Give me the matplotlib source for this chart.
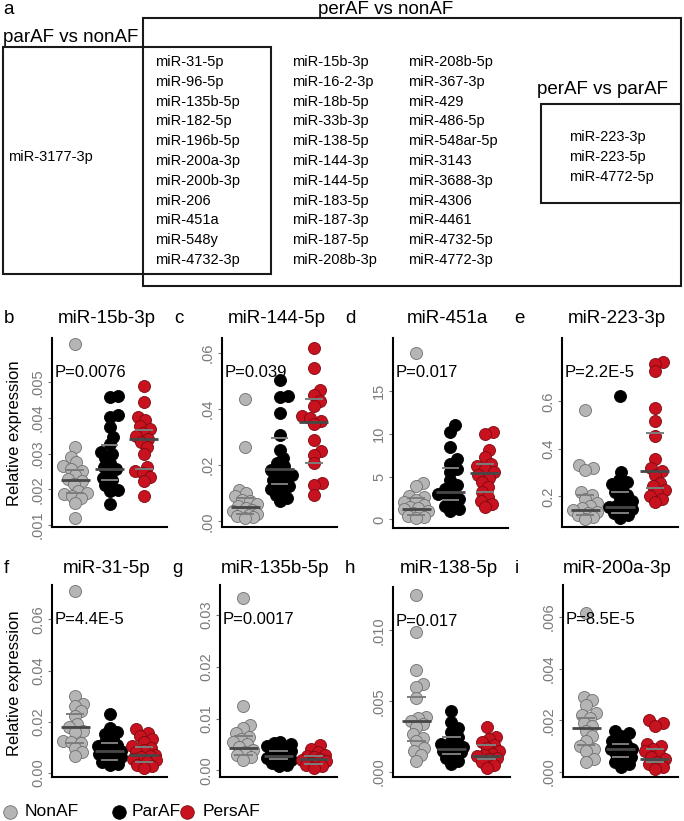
import numpy as np
import matplotlib
matplotlib.use('Agg')
import matplotlib.pyplot as plt
from matplotlib.patches import Rectangle

plt.rcParams['font.family'] = ['Liberation Sans', 'DejaVu Sans']

W, H = 684, 821

# ---- panel a: miRNA lists ----
only_paraf = ['miR-3177-3p']
paraf_and_peraf = ['miR-31-5p', 'miR-96-5p', 'miR-135b-5p', 'miR-182-5p', 'miR-196b-5p',
                   'miR-200a-3p', 'miR-200b-3p', 'miR-206', 'miR-451a', 'miR-548y', 'miR-4732-3p']
only_peraf_col1 = ['miR-15b-3p', 'miR-16-2-3p', 'miR-18b-5p', 'miR-33b-3p', 'miR-138-5p',
                   'miR-144-3p', 'miR-144-5p', 'miR-183-5p', 'miR-187-3p', 'miR-187-5p', 'miR-208b-3p']
only_peraf_col2 = ['miR-208b-5p', 'miR-367-3p', 'miR-429', 'miR-486-5p', 'miR-548ar-5p',
                   'miR-3143', 'miR-3688-3p', 'miR-4306', 'miR-4461', 'miR-4732-5p', 'miR-4772-3p']
peraf_vs_paraf = ['miR-223-3p', 'miR-223-5p', 'miR-4772-5p']

groups = ['NonAF', 'ParAF', 'PersAF']

# ---- panels b-i: relative expression ----
b_non = [0.00607, 0.00319, 0.00291, 0.00275, 0.00265, 0.00258, 0.0025, 0.0024, 0.0023, 0.00222,
         0.00215, 0.00196, 0.0019, 0.00187, 0.00182, 0.00175, 0.00162, 0.0012]
b_par = [0.00461, 0.00458, 0.00408, 0.00402, 0.00374, 0.00347, 0.00327, 0.00305, 0.00298, 0.00287,
         0.00273, 0.00262, 0.00256, 0.00245, 0.00232, 0.00225, 0.00212, 0.00198, 0.00194, 0.00159]
b_pers = [0.00489, 0.00445, 0.00402, 0.00393, 0.00377, 0.00368, 0.00357, 0.00348, 0.0034, 0.00332,
          0.00319, 0.00299, 0.00263, 0.00252, 0.00245, 0.00235, 0.00222, 0.00181]
b_median = [0.00226, 0.00256, 0.00341]
b_q1 = [0.00189, 0.00226, 0.00257]
b_q3 = [0.00254, 0.00324, 0.00366]

c_non = [0.0436, 0.0264, 0.0113, 0.0101, 0.0089, 0.0077, 0.0071, 0.0063, 0.0053, 0.0048,
         0.0042, 0.0036, 0.0032, 0.0027, 0.0024, 0.0020, 0.0015, 0.0012]
c_par = [0.0505, 0.0448, 0.0443, 0.0386, 0.0309, 0.0253, 0.0226, 0.0208, 0.0196, 0.0184, 0.0175,
         0.0166, 0.0158, 0.0149, 0.0137, 0.0125, 0.0115, 0.0107, 0.0095, 0.0083, 0.0071]
c_pers = [0.0618, 0.0546, 0.0469, 0.0451, 0.0428, 0.0410, 0.0374, 0.0368, 0.0356, 0.0345,
          0.0289, 0.0249, 0.0238, 0.0208, 0.0137, 0.0131, 0.0095]
c_median = [0.0050, 0.0188, 0.0353]
c_q1 = [0.0025, 0.0134, 0.0208]
c_q3 = [0.0085, 0.0297, 0.0437]

d_non = [19.4, 4.3, 3.9, 2.7, 2.6, 2.3, 2.0, 1.7, 1.5, 1.3, 1.2, 1.0, 0.8, 0.6, 0.4, 0.3, 0.2]
d_par = [11.0, 10.2, 8.5, 7.1, 6.5, 5.9, 5.5, 4.6, 4.0, 3.6, 3.3, 3.0, 2.7, 2.4, 2.0, 1.6, 1.25, 1.0]
d_pers = [10.2, 10.0, 8.1, 7.3, 6.5, 6.2, 5.9, 5.5, 5.2, 4.8, 4.4, 3.8, 3.2, 2.6, 2.2, 1.8, 1.45]
d_median = [1.17, 3.16, 5.47]
d_q1 = [0.5, 2.3, 3.2]
d_q3 = [2.5, 6.0, 6.5]

e_non = [0.562, 0.331, 0.318, 0.31, 0.217, 0.207, 0.19, 0.17, 0.16, 0.15, 0.143, 0.135,
         0.128, 0.12, 0.112, 0.105]
e_par = [0.621, 0.301, 0.27, 0.26, 0.25, 0.235, 0.22, 0.207, 0.195, 0.18, 0.17, 0.16, 0.155,
         0.148, 0.14, 0.13, 0.12, 0.11]
e_pers = [0.768, 0.759, 0.726, 0.572, 0.516, 0.455, 0.357, 0.319, 0.305, 0.291, 0.256, 0.242,
          0.225, 0.214, 0.2, 0.189, 0.175]
e_median = [0.144, 0.155, 0.305]
e_q1 = [0.12, 0.13, 0.235]
e_q3 = [0.207, 0.218, 0.469]

f_non = [0.0713, 0.030, 0.027, 0.026, 0.024, 0.022, 0.019, 0.018, 0.0165, 0.016, 0.0125, 0.012,
         0.0115, 0.0095, 0.008, 0.0065]
f_par = [0.023, 0.0175, 0.016, 0.015, 0.0135, 0.012, 0.011, 0.0105, 0.0095, 0.009, 0.0085, 0.008,
         0.0075, 0.007, 0.006, 0.005, 0.004, 0.0035, 0.003]
f_pers = [0.017, 0.0155, 0.0145, 0.013, 0.012, 0.0105, 0.0095, 0.009, 0.008, 0.007, 0.0065,
          0.006, 0.0055, 0.005, 0.004, 0.003, 0.0025, 0.0018]
f_median = [0.0178, 0.0083, 0.0069]
f_q1 = [0.0115, 0.0049, 0.0043]
f_q3 = [0.0230, 0.0118, 0.0099]

g_non = [0.0332, 0.0125, 0.0088, 0.0082, 0.0072, 0.0065, 0.006, 0.0055, 0.005, 0.0045, 0.004,
         0.0035, 0.003, 0.0025, 0.002]
g_par = [0.0055, 0.0052, 0.005, 0.0047, 0.0045, 0.004, 0.0037, 0.0034, 0.003, 0.0028, 0.0026,
         0.0024, 0.002, 0.0017, 0.0014, 0.001, 0.0008]
g_pers = [0.0049, 0.0042, 0.0035, 0.003, 0.0028, 0.0025, 0.0022, 0.002, 0.0018, 0.0015, 0.0012,
          0.001, 0.0008, 0.0005]
g_median = [0.0043, 0.0027, 0.0021]
g_q1 = [0.0030, 0.0021, 0.0013]
g_q3 = [0.0067, 0.0037, 0.0027]

h_non = [0.0125, 0.0099, 0.0072, 0.0062, 0.006, 0.0052, 0.0039, 0.0038, 0.0036, 0.0034, 0.0032,
         0.0027, 0.0024, 0.0022, 0.0017, 0.0015, 0.0012, 0.0008]
h_par = [0.0043, 0.0035, 0.0031, 0.0028, 0.0025, 0.0022, 0.002, 0.0018, 0.0017, 0.0016, 0.0015,
         0.0014, 0.0012, 0.001, 0.0008, 0.0006]
h_pers = [0.0032, 0.0025, 0.0023, 0.0021, 0.0019, 0.0017, 0.0015, 0.0013, 0.0012, 0.0011, 0.001,
          0.0009, 0.0007, 0.0005, 0.0003]
h_median = [0.0036, 0.0016, 0.0011]
h_q1 = [0.0022, 0.0013, 0.0009]
h_q3 = [0.0053, 0.0025, 0.0019]

i_non = [0.00615, 0.0029, 0.0028, 0.0026, 0.0023, 0.0022, 0.0021, 0.0019, 0.0018, 0.0016, 0.0014,
         0.0012, 0.001, 0.0009, 0.0008, 0.0005, 0.0004]
i_par = [0.0016, 0.0015, 0.0014, 0.0012, 0.0011, 0.001, 0.0009, 0.0009, 0.0008, 0.0007, 0.0006,
         0.0005, 0.0004, 0.0003, 0.0002]
i_pers = [0.002, 0.0019, 0.0018, 0.0011, 0.001, 0.0009, 0.0008, 0.0007, 0.0006, 0.0005, 0.0004,
          0.0003, 0.0002, 0.0001]
i_median = [0.0017, 0.0009, 0.00052]
i_q1 = [0.00106, 0.00058, 0.00039]
i_q3 = [0.0021, 0.0011, 0.00088]

p_values = ['P=0.0076', 'P=0.039', 'P=0.017', 'P=2.2E-5', 'P=4.4E-5', 'P=0.0017', 'P=0.017', 'P=8.5E-5']
titles = ['miR-15b-3p', 'miR-144-5p', 'miR-451a', 'miR-223-3p',
          'miR-31-5p', 'miR-135b-5p', 'miR-138-5p', 'miR-200a-3p']
letters = ['b', 'c', 'd', 'e', 'f', 'g', 'h', 'i']

# (left, right, top, bottom) in pixels, y limits, ticks, tick labels
panels = [
    dict(pos=(52, 167, 338, 527), ylim=(0.00094, 0.00624), ticks=[.001, .002, .003, .004, .005],
         labels=['.001', '.002', '.003', '.004', '.005'],
         data=[b_non, b_par, b_pers], med=b_median, q1=b_q1, q3=b_q3),
    dict(pos=(222, 337, 338, 527), ylim=(-0.002, 0.0653), ticks=[0, .02, .04, .06],
         labels=['.00', '.02', '.04', '.06'],
         data=[c_non, c_par, c_pers], med=c_median, q1=c_q1, q3=c_q3),
    dict(pos=(393, 508, 338, 528), ylim=(-1.0, 21.2), ticks=[0, 5, 10, 15],
         labels=['0', '5', '10', '15'],
         data=[d_non, d_par, d_pers], med=d_median, q1=d_q1, q3=d_q3),
    dict(pos=(562, 678, 338, 527), ylim=(0.071, 0.867), ticks=[0.2, 0.4, 0.6],
         labels=['0.2', '0.4', '0.6'],
         data=[e_non, e_par, e_pers], med=e_median, q1=e_q1, q3=e_q3),
    dict(pos=(52, 167, 585, 777), ylim=(-0.0017, 0.0735), ticks=[0, .02, .04, .06],
         labels=['0.00', '0.02', '0.04', '0.06'],
         data=[f_non, f_par, f_pers], med=f_median, q1=f_q1, q3=f_q3),
    dict(pos=(220, 337, 585, 777), ylim=(-0.0013, 0.0358), ticks=[0, .01, .02, .03],
         labels=['0.00', '0.01', '0.02', '0.03'],
         data=[g_non, g_par, g_pers], med=g_median, q1=g_q1, q3=g_q3),
    dict(pos=(393, 510, 587, 777), ylim=(-0.00035, 0.01306), ticks=[0, .005, .010],
         labels=['.000', '.005', '.010'],
         data=[h_non, h_par, h_pers], med=h_median, q1=h_q1, q3=h_q3),
    dict(pos=(563, 678, 585, 777), ylim=(-0.00019, 0.00723), ticks=[0, .002, .004, .006],
         labels=['.000', '.002', '.004', '.006'],
         data=[i_non, i_par, i_pers], med=i_median, q1=i_q1, q3=i_q3),
]

fills = ['#b5b5b5', '#000000', '#c8121f']
edges = ['#6e6e6e', '#000000', '#7c0a10']
tick_gray = '#7a7a7a'


def swarm_x(ax, xc, vals, min_gap=7.5, max_off=12):
    # compact beeswarm, computed in pixel space
    vals = np.asarray(vals, float)
    pix = ax.transData.transform(np.column_stack([np.full(len(vals), xc), vals]))
    x0 = pix[0, 0]
    ys = pix[:, 1]
    xs = np.full(len(vals), x0)
    cands = [0]
    for k in range(1, max_off + 1):
        cands += [k, -k]
    placed = []
    for i in np.argsort(vals):
        best, best_d = 0, -1
        for c in cands:
            if not placed:
                best = c
                break
            d = min(np.hypot(x0 + c - px, ys[i] - py) for px, py in placed)
            if d >= min_gap:
                best = c
                break
            if d > best_d:
                best, best_d = c, d
        xs[i] = x0 + best
        placed.append((x0 + best, ys[i]))
    return ax.transData.inverted().transform(np.column_stack([xs, ys]))[:, 0]


def fx(px):
    return px / W


def fy(py):
    return 1 - py / H


fig = plt.figure(figsize=(W / 100, H / 100), dpi=100)

# ---- panel a (drawn in pixel coordinates) ----
va = fig.add_axes([0, 0, 1, 1])
va.set_xlim(0, W)
va.set_ylim(H, 0)
va.axis('off')
for x, y, w, h in [(3, 47, 268, 227), (143, 18, 538, 268), (541, 104, 140, 99)]:
    va.add_patch(Rectangle((x, y), w, h, fill=False, lw=1.5, edgecolor='#1a1a1a'))

va.text(3, 9, 'a', fontsize=13.5, va='center', ha='left')
va.text(3, 38, 'parAF vs nonAF', fontsize=13.5, va='center', ha='left')
va.text(318, 10, 'perAF vs nonAF', fontsize=13.5, va='center', ha='left')
va.text(537, 90, 'perAF vs parAF', fontsize=13.5, va='center', ha='left')

va.text(8, 157, only_paraf[0], fontsize=10.5, va='center')
line_gap = 19.8
for col_x, names in [(155, paraf_and_peraf), (292, only_peraf_col1), (408, only_peraf_col2)]:
    for k, name in enumerate(names):
        va.text(col_x, 62 + k * line_gap, name, fontsize=10.5, va='center')
for k, name in enumerate(peraf_vs_paraf):
    va.text(569, 137 + k * line_gap, name, fontsize=10.5, va='center')

# ---- panels b-i ----
xpos = np.array([1, 2, 3])
for n, p in enumerate(panels):
    l, r, t, b = p['pos']
    ax = fig.add_axes([fx(l), fy(b), (r - l) / W, (b - t) / H])
    ax.set_xlim(0.33, 3.67)
    ax.set_ylim(*p['ylim'])
    for s in ['top', 'right']:
        ax.spines[s].set_visible(False)
    for s in ['left', 'bottom']:
        ax.spines[s].set_linewidth(1.5)
        ax.spines[s].set_color('black')
    ax.set_xticks([])
    ax.set_yticks(p['ticks'])
    ax.set_yticklabels(p['labels'], rotation=90, va='center', color=tick_gray, fontsize=10.5)
    ax.tick_params(axis='y', length=3, width=0.8, color=tick_gray, pad=2)
    ax.patch.set_alpha(0)

    for g in range(3):
        xs = swarm_x(ax, xpos[g], p['data'][g])
        ax.scatter(xs, p['data'][g], s=75, c=fills[g], edgecolors=edges[g],
                   linewidths=0.6, zorder=2, clip_on=False)
    ax.hlines(p['q1'], xpos - 0.26, xpos + 0.26, colors='#7d7d7d', lw=1.4, zorder=3)
    ax.hlines(p['q3'], xpos - 0.26, xpos + 0.26, colors='#7d7d7d', lw=1.4, zorder=3)
    ax.hlines(p['med'], xpos - 0.42, xpos + 0.42, colors='#474747', lw=2.0, zorder=3)

    ax.text(0.025, 0.82, p_values[n], transform=ax.transAxes, fontsize=12, va='center', ha='left')

    base = 323 if n < 4 else 573
    fig.text(fx((l + r) / 2 - 3), fy(base), titles[n], fontsize=13.5, ha='center', va='baseline')
    fig.text(fx(l - 48), fy(base), letters[n], fontsize=13.5, ha='left', va='baseline')

fig.text(fx(15), fy(433), 'Relative expression', rotation=90, fontsize=12, ha='center', va='center')
fig.text(fx(15), fy(683), 'Relative expression', rotation=90, fontsize=12, ha='center', va='center')

# ---- legend ----
for mx, tx, g in [(10, 25, 0), (119, 132, 1), (187, 203, 2)]:
    va.scatter([mx], [812], s=95, c=fills[g], edgecolors=edges[g], linewidths=0.6, clip_on=False)
    va.text(tx, 812, groups[g], fontsize=12.5, va='center', ha='left')

fig.savefig('out.png', dpi=100)
